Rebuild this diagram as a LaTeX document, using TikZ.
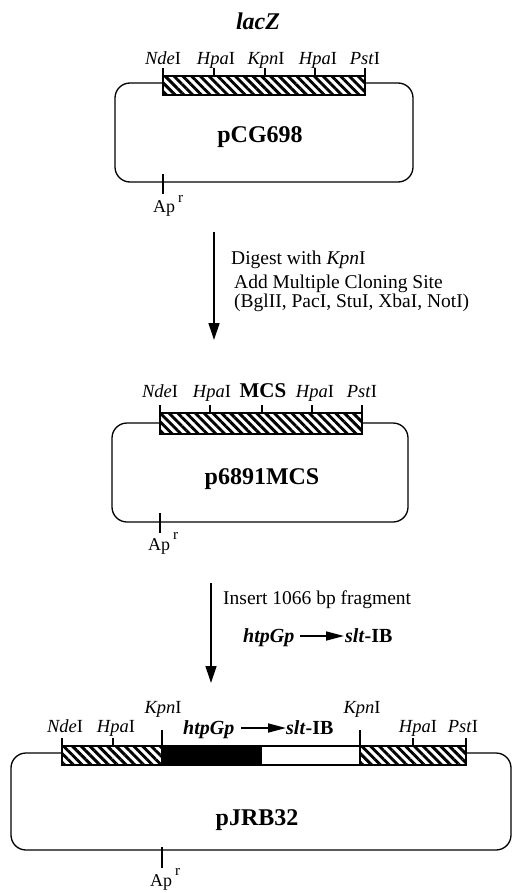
\documentclass[tikz,border=0pt]{standalone}
\usepackage{fontspec}
\setmainfont{Liberation Serif}
\usetikzlibrary{patterns.meta,arrows.meta}
\tikzset{
  plasmid/.style={draw, line width=1.3pt, rounded corners=15pt},
  hatchbar/.style={draw, line width=1.2pt, preaction={fill=white},
    pattern={Lines[angle=-45,distance=6.2pt,line width=2.9pt]}},
  blackbar/.style={draw, line width=1.2pt, fill=black},
  whitebar/.style={draw, line width=1.2pt, fill=white},
  sitetick/.style={line width=1.2pt},
  sitelab/.style={inner sep=0pt, anchor=base, font=\fontsize{18.5}{20}\selectfont},
  namelab/.style={inner sep=0pt, anchor=base, font=\fontsize{24}{26}\selectfont\bfseries},
  steptext/.style={inner sep=0pt, anchor=base west, font=\fontsize{19.5}{21}\selectfont},
  genelab/.style={inner sep=0pt, anchor=base west, font=\fontsize{20}{22}\selectfont\bfseries},
  steparrow/.style={line width=1.3pt, -{Triangle[length=17pt,width=11pt]}},
  genearrow/.style={line width=1.7pt, -{Triangle[length=18pt,width=9pt]}},
}
\newcommand{\apr}{Ap\raisebox{0.6em}{\,\fontsize{15}{16}\selectfont r}}
\begin{document}
\begin{tikzpicture}[x=1pt,y=-1pt]
\useasboundingbox (0,0) rectangle (513,893);

% ---------------- top plasmid pCG698 ----------------
\node[inner sep=0pt, anchor=base, font=\fontsize{24}{26}\selectfont\bfseries\itshape] (lacz) at (258,30) {lacZ};
\draw[plasmid] (115,83) rectangle (413,182);
\draw[hatchbar] (163,76) rectangle (365,95);
\foreach \x/\n in {163/t1,214/t2,265/t3,315/t4,365/t5}{
  \coordinate (\n a) at (\x,68); \coordinate (\n b) at (\x,76);
  \draw[sitetick] (\n a) -- (\n b);
}
\node[sitelab] (s1) at (163,65) {\textit{Nde}I};
\node[sitelab] (s2) at (216,65) {\textit{Hpa}I};
\node[sitelab] (s3) at (266,65) {\textit{Kpn}I};
\node[sitelab] (s4) at (318,65) {\textit{Hpa}I};
\node[sitelab] (s5) at (365,65) {\textit{Pst}I};
\node[namelab] (p1) at (260,143) {pCG698};
\coordinate (ap1a) at (163,174); \coordinate (ap1b) at (163,194);
\draw[sitetick] (ap1a) -- (ap1b);
\node[inner sep=0pt, anchor=base west, font=\fontsize{18}{20}\selectfont] (ap1) at (153,213) {\apr};

% ---------------- step 1 ----------------
\coordinate (st1a) at (214,232); \coordinate (st1b) at (214,340);
\draw[steparrow] (st1a) -- (st1b);
\node[steptext] (d1) at (231,264) {Digest with \textit{Kpn}I};
\node[steptext] (d2) at (234,288) {Add Multiple Cloning Site};
\node[steptext] (d3) at (234,307) {(BglII, PacI, StuI, XbaI, NotI)};

% ---------------- middle plasmid p6891MCS ----------------
\draw[plasmid] (112,423) rectangle (408,522);
\draw[hatchbar] (160,413) rectangle (362,434);
\foreach \x/\n in {160/m1,210/m2,262/m3,312/m4,362/m5}{
  \coordinate (\n a) at (\x,405); \coordinate (\n b) at (\x,413);
  \draw[sitetick] (\n a) -- (\n b);
}
\node[sitelab] (ms1) at (160,397) {\textit{Nde}I};
\node[sitelab] (ms2) at (212,397) {\textit{Hpa}I};
\node[inner sep=0pt, anchor=base, font=\fontsize{21}{22}\selectfont\bfseries] (ms3) at (263,397) {MCS};
\node[sitelab] (ms4) at (315,397) {\textit{Hpa}I};
\node[sitelab] (ms5) at (362,397) {\textit{Pst}I};
\node[namelab] (p2) at (262,484) {p6891MCS};
\coordinate (ap2a) at (160,513); \coordinate (ap2b) at (160,533);
\draw[sitetick] (ap2a) -- (ap2b);
\node[inner sep=0pt, anchor=base west, font=\fontsize{18}{20}\selectfont] (ap2) at (148,550) {\apr};

% ---------------- step 2 ----------------
\coordinate (st2a) at (211,583); \coordinate (st2b) at (211,683);
\draw[steparrow] (st2a) -- (st2b);
\node[steptext] (i1) at (223,604) {Insert 1066 bp fragment};
\node[genelab] (g1) at (243,642) {\textit{htpGp}};
\coordinate (ga1) at (300,636); \coordinate (ga2) at (344,636);
\draw[genearrow] (ga1) -- (ga2);
\node[genelab] (g2) at (345,642) {\textit{slt}-IB};

% ---------------- bottom plasmid pJRB32 ----------------
\draw[plasmid] (11,753) rectangle (511,850);
\draw[hatchbar] (62,746) rectangle (162,765);
\draw[blackbar] (162,746) rectangle (261,765);
\draw[whitebar] (261,746) rectangle (360,765);
\draw[hatchbar] (360,746) rectangle (466,765);
\foreach \x/\n/\y in {62/b1/738,113/b2/738,162/b3/730,360/b4/730,413/b5/738,466/b6/738}{
  \coordinate (\n a) at (\x,\y); \coordinate (\n b) at (\x,746);
  \draw[sitetick] (\n a) -- (\n b);
}
\node[sitelab] (bs1) at (65,732) {\textit{Nde}I};
\node[sitelab] (bs2) at (116,732) {\textit{Hpa}I};
\node[sitelab] (bs3) at (163,713) {\textit{Kpn}I};
\node[sitelab] (bs4) at (362,713) {\textit{Kpn}I};
\node[sitelab] (bs5) at (418,732) {\textit{Hpa}I};
\node[sitelab] (bs6) at (463,732) {\textit{Pst}I};
\node[genelab] (g3) at (183,734) {\textit{htpGp}};
\coordinate (gb1) at (241,728); \coordinate (gb2) at (286,728);
\draw[genearrow] (gb1) -- (gb2);
\node[genelab] (g4) at (286,734) {\textit{slt}-IB};
\node[namelab] (p3) at (257,825) {pJRB32};
\coordinate (ap3a) at (162,847); \coordinate (ap3b) at (162,868);
\draw[sitetick] (ap3a) -- (ap3b);
\node[inner sep=0pt, anchor=base west, font=\fontsize{18}{20}\selectfont] (ap3) at (150,886) {\apr};
\end{tikzpicture}
\end{document}
